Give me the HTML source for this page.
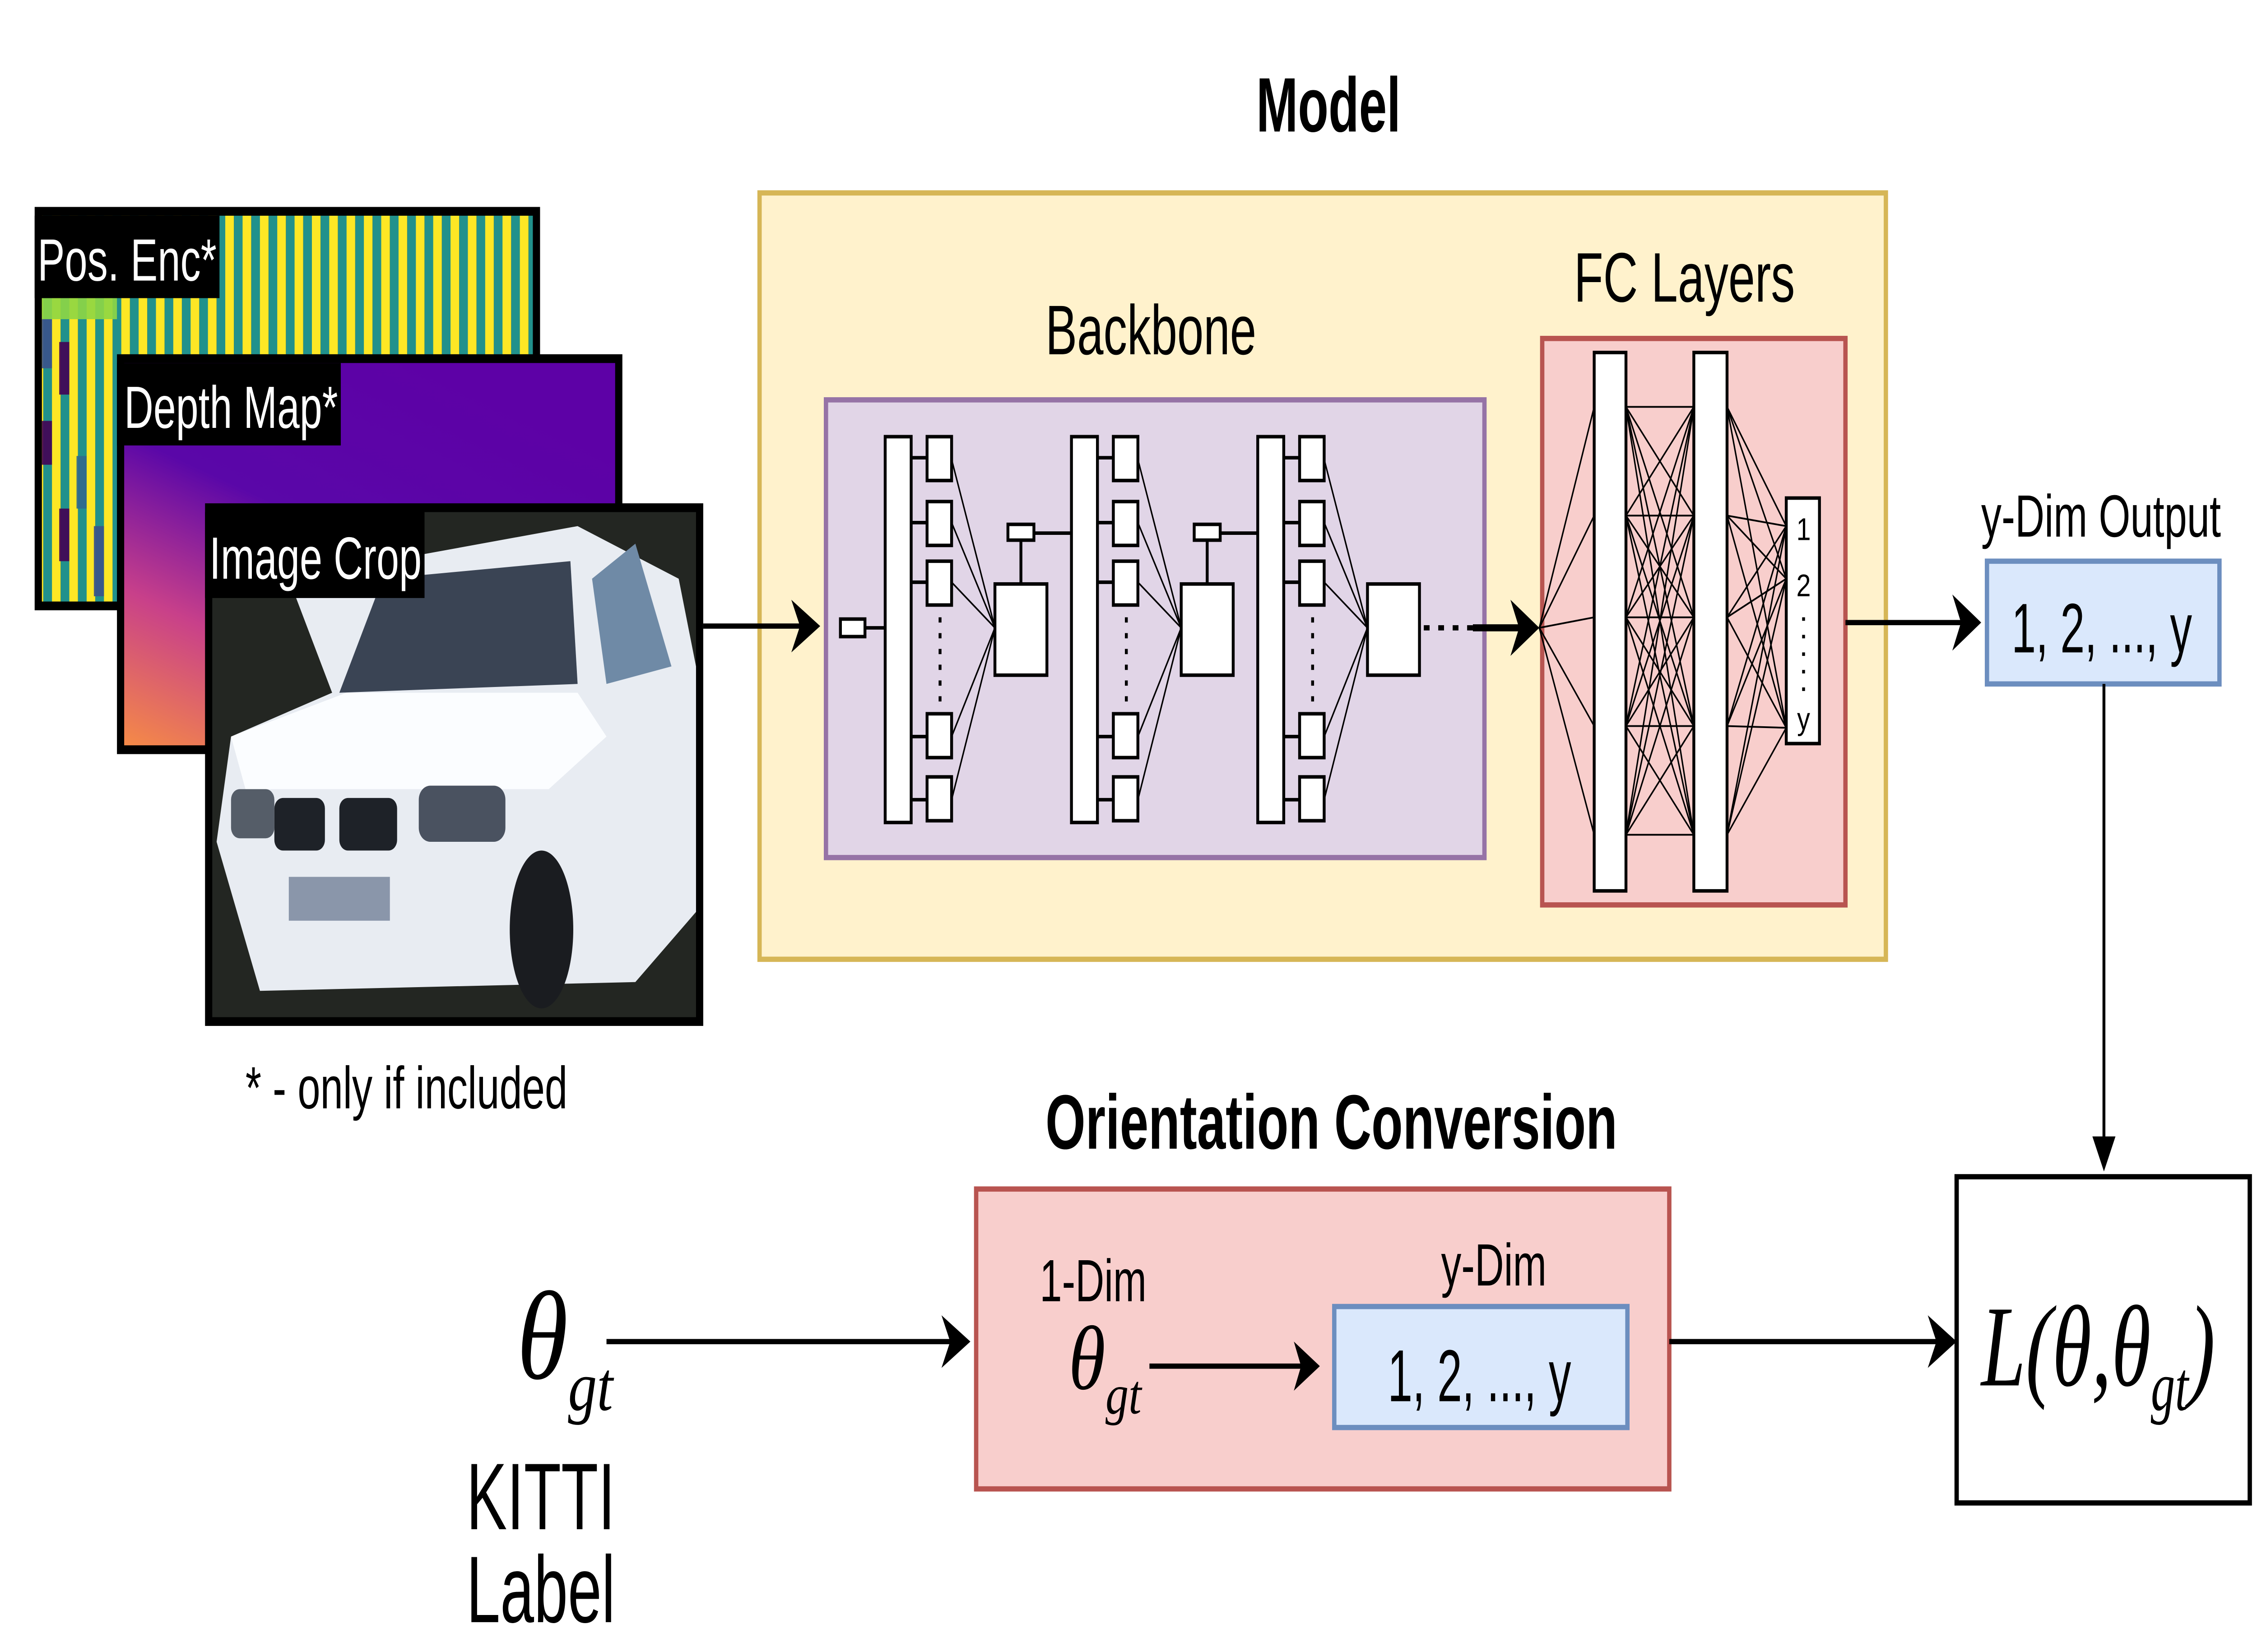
<!DOCTYPE html>
<html><head><meta charset="utf-8"><style>
html,body{margin:0;padding:0;background:#fff;overflow:hidden;width:100vw;height:100vh;}
svg{display:block;width:100vw;height:100vh;}
text{font-family:"Liberation Sans Narrow","Liberation Sans",sans-serif;}
.s{font-family:"Liberation Serif",serif;font-style:italic;}
</style></head><body>
<svg viewBox="0 0 1563 942" preserveAspectRatio="none" xmlns="http://www.w3.org/2000/svg">
<defs>
<pattern id="st" x="0" y="0" width="12" height="10" patternUnits="userSpaceOnUse">
<rect width="6" height="10" fill="#fde725"/><rect x="6" width="6" height="10" fill="#21918c"/>
</pattern>
<linearGradient id="dg" x1="0" y1="1" x2="0.6" y2="0">
<stop offset="0" stop-color="#f58a47"/><stop offset="0.3" stop-color="#c8408a"/><stop offset="0.6" stop-color="#5a07a8"/><stop offset="1" stop-color="#5d01a6"/>
</linearGradient>
</defs>

<rect x="24" y="118" width="350" height="230" fill="#000"/>
<rect x="29" y="123" width="340" height="220" fill="url(#st)"/>
<g opacity="0.9">
<rect x="29" y="180" width="7" height="30" fill="#3b528b"/><rect x="41" y="195" width="7" height="30" fill="#440154"/>
<rect x="29" y="240" width="7" height="25" fill="#440154"/><rect x="53" y="260" width="7" height="30" fill="#31688e"/>
<rect x="41" y="290" width="7" height="30" fill="#440154"/><rect x="65" y="300" width="7" height="40" fill="#3b528b"/>
<rect x="29" y="170" width="52" height="12" fill="#8fd744"/>
</g>
<rect x="24" y="123" width="128" height="47" fill="#000"/>
<text x="26" y="160" font-size="34" fill="#fff" textLength="124" lengthAdjust="spacingAndGlyphs">Pos. Enc*</text>

<rect x="81" y="202" width="350" height="228" fill="#000"/>
<rect x="86" y="207" width="340" height="218" fill="url(#dg)"/>
<rect x="81" y="207" width="155" height="47" fill="#000"/>
<text x="86" y="244" font-size="34" fill="#fff" textLength="148" lengthAdjust="spacingAndGlyphs">Depth Map*</text>

<rect x="142" y="287" width="345" height="298" fill="#000"/>
<rect x="147" y="292" width="335" height="288" fill="#232622"/>
<path d="M200,330 L400,300 L470,330 L482,380 L482,520 L440,560 L180,565 L150,480 L160,420 L230,395 Z" fill="#e8ecf2"/>
<path d="M235,395 L265,330 L395,320 L400,390 Z" fill="#3a4454"/>
<path d="M410,330 L440,310 L465,380 L420,390 Z" fill="#6f8aa6"/>
<path d="M160,420 L240,395 L400,395 L420,420 L380,450 L170,450 Z" fill="#fbfdff"/>
<rect x="190" y="455" width="35" height="30" rx="6" fill="#1e2228"/><rect x="235" y="455" width="40" height="30" rx="6" fill="#1e2228"/>
<rect x="160" y="450" width="30" height="28" rx="6" fill="#555d68"/><rect x="290" y="448" width="60" height="32" rx="8" fill="#4a5260"/>
<rect x="200" y="500" width="70" height="25" fill="#8a96aa"/>
<ellipse cx="375" cy="530" rx="22" ry="45" fill="#1a1c20"/>
<rect x="142" y="292" width="152" height="49" fill="#000"/>
<text x="145" y="330" font-size="34" fill="#fff" textLength="147" lengthAdjust="spacingAndGlyphs">Image Crop</text>

<text x="170" y="632" font-size="34" textLength="223" lengthAdjust="spacingAndGlyphs">* - only if included</text>

<text x="870" y="75" font-size="44" font-weight="bold" textLength="100" lengthAdjust="spacingAndGlyphs">Model</text>
<rect x="526" y="110" width="780" height="437" fill="#fff2cc" stroke="#d6b656" stroke-width="3"/>
<text x="724" y="202" font-size="40" textLength="146" lengthAdjust="spacingAndGlyphs">Backbone</text>
<rect x="572" y="228" width="456" height="261" fill="#e1d5e7" stroke="#9673a6" stroke-width="3"/>
<text x="1090" y="172" font-size="40" textLength="153" lengthAdjust="spacingAndGlyphs">FC Layers</text>
<rect x="1068" y="193" width="210" height="323" fill="#f8cecc" stroke="#b85450" stroke-width="3"/>

<line x1="487" y1="357" x2="560" y2="357" stroke="#000" stroke-width="3"/>
<path d="M548,342 L568,357 L548,372 L554,357 z" fill="#000"/>

<g stroke="#000" stroke-width="2" fill="#fff">
<rect x="582" y="353" width="17" height="10"/>
<line x1="599" y1="358" x2="613" y2="358"/>
</g>
<g id="blk" stroke="#000" fill="#fff">
<rect x="613" y="249" width="18" height="220" stroke-width="2"/>
<g stroke-width="2">
<line x1="631" y1="261" x2="642" y2="261"/><line x1="631" y1="298" x2="642" y2="298"/><line x1="631" y1="332" x2="642" y2="332"/><line x1="631" y1="420" x2="642" y2="420"/><line x1="631" y1="456" x2="642" y2="456"/>
<rect x="642" y="249" width="17" height="25"/><rect x="642" y="286" width="17" height="25"/><rect x="642" y="320" width="17" height="25"/><rect x="642" y="407" width="17" height="25"/><rect x="642" y="443" width="17" height="25"/>
</g>
<g stroke-width="1">
<line x1="659" y1="262" x2="689" y2="358"/><line x1="659" y1="298" x2="689" y2="358"/><line x1="659" y1="332" x2="689" y2="358"/><line x1="659" y1="420" x2="689" y2="358"/><line x1="659" y1="456" x2="689" y2="358"/>
</g>
<g stroke-width="2" stroke-dasharray="3,6"><line x1="651" y1="352" x2="651" y2="402"/></g>
<rect x="689" y="333" width="36" height="52" stroke-width="2"/>
</g>
<use href="#blk" x="129"/>
<use href="#blk" x="258"/>
<g stroke="#000" fill="#fff" stroke-width="2">
<line x1="707" y1="333" x2="707" y2="308"/><rect x="698" y="299" width="18" height="9"/><line x1="716" y1="304" x2="742" y2="304"/>
<line x1="836" y1="333" x2="836" y2="308"/><rect x="827" y="299" width="18" height="9"/><line x1="845" y1="304" x2="871" y2="304"/>
</g>
<line x1="986" y1="358" x2="1020" y2="358" stroke="#000" stroke-width="3" stroke-dasharray="4,6"/>
<line x1="1020" y1="358" x2="1055" y2="358" stroke="#000" stroke-width="4"/>
<path d="M1046,342 L1066,358 L1046,374 L1052,358 z" fill="#000"/>

<g stroke="#000" stroke-width="1" fill="none">
<line x1="1066" y1="358" x2="1104" y2="232"/><line x1="1066" y1="358" x2="1104" y2="294"/><line x1="1066" y1="358" x2="1104" y2="352"/><line x1="1066" y1="358" x2="1104" y2="414"/><line x1="1066" y1="358" x2="1104" y2="476"/>
</g>
<g stroke="#000" stroke-width="1">
<line x1="1126" y1="232" x2="1173" y2="232"/><line x1="1126" y1="232" x2="1173" y2="294"/><line x1="1126" y1="232" x2="1173" y2="352"/><line x1="1126" y1="232" x2="1173" y2="414"/><line x1="1126" y1="232" x2="1173" y2="476"/>
<line x1="1126" y1="294" x2="1173" y2="232"/><line x1="1126" y1="294" x2="1173" y2="294"/><line x1="1126" y1="294" x2="1173" y2="352"/><line x1="1126" y1="294" x2="1173" y2="414"/><line x1="1126" y1="294" x2="1173" y2="476"/>
<line x1="1126" y1="352" x2="1173" y2="232"/><line x1="1126" y1="352" x2="1173" y2="294"/><line x1="1126" y1="352" x2="1173" y2="352"/><line x1="1126" y1="352" x2="1173" y2="414"/><line x1="1126" y1="352" x2="1173" y2="476"/>
<line x1="1126" y1="414" x2="1173" y2="232"/><line x1="1126" y1="414" x2="1173" y2="294"/><line x1="1126" y1="414" x2="1173" y2="352"/><line x1="1126" y1="414" x2="1173" y2="414"/><line x1="1126" y1="414" x2="1173" y2="476"/>
<line x1="1126" y1="476" x2="1173" y2="232"/><line x1="1126" y1="476" x2="1173" y2="294"/><line x1="1126" y1="476" x2="1173" y2="352"/><line x1="1126" y1="476" x2="1173" y2="414"/><line x1="1126" y1="476" x2="1173" y2="476"/>
<line x1="1196" y1="232" x2="1237" y2="300"/><line x1="1196" y1="232" x2="1237" y2="330"/><line x1="1196" y1="232" x2="1237" y2="415"/>
<line x1="1196" y1="294" x2="1237" y2="300"/><line x1="1196" y1="294" x2="1237" y2="330"/><line x1="1196" y1="294" x2="1237" y2="415"/>
<line x1="1196" y1="352" x2="1237" y2="300"/><line x1="1196" y1="352" x2="1237" y2="330"/><line x1="1196" y1="352" x2="1237" y2="415"/>
<line x1="1196" y1="414" x2="1237" y2="300"/><line x1="1196" y1="414" x2="1237" y2="330"/><line x1="1196" y1="414" x2="1237" y2="415"/>
<line x1="1196" y1="476" x2="1237" y2="300"/><line x1="1196" y1="476" x2="1237" y2="330"/><line x1="1196" y1="476" x2="1237" y2="415"/>
</g>
<rect x="1104" y="201" width="22" height="307" fill="#fff" stroke="#000" stroke-width="2"/>
<rect x="1173" y="201" width="23" height="307" fill="#fff" stroke="#000" stroke-width="2"/>
<rect x="1237" y="284" width="23" height="140" fill="#fff" stroke="#000" stroke-width="2"/>
<text x="1249" y="308" font-size="18" text-anchor="middle">1</text>
<text x="1249" y="340" font-size="18" text-anchor="middle">2</text>
<line x1="1249" y1="352" x2="1249" y2="395" stroke="#000" stroke-width="2" stroke-dasharray="2,8"/>
<text x="1249" y="416" font-size="18" text-anchor="middle">y</text>

<line x1="1278" y1="355" x2="1360" y2="355" stroke="#000" stroke-width="3"/>
<path d="M1352,339 L1372,355 L1352,371 L1358,355 z" fill="#000"/>

<text x="1372" y="306" font-size="34" textLength="166" lengthAdjust="spacingAndGlyphs">y-Dim Output</text>
<rect x="1376" y="320" width="161" height="70" fill="#dae8fc" stroke="#6c8ebf" stroke-width="3"/>
<text x="1393" y="372" font-size="40" textLength="125" lengthAdjust="spacingAndGlyphs">1, 2, ..., y</text>
<line x1="1457" y1="390" x2="1457" y2="655" stroke="#000" stroke-width="2"/>
<path d="M1449,648 L1457,668 L1465,648 z" fill="#000"/>

<rect x="1355" y="671" width="203" height="186" fill="#fff" stroke="#000" stroke-width="3"/>
<text x="1372" y="790" font-size="66" class="s" textLength="162" lengthAdjust="spacingAndGlyphs">L(θ,θ<tspan font-size="40" dy="14">gt</tspan><tspan dy="-14">)</tspan></text>

<text x="724" y="655" font-size="44" font-weight="bold" textLength="396" lengthAdjust="spacingAndGlyphs">Orientation Conversion</text>
<rect x="676" y="678" width="480" height="171" fill="#f8cecc" stroke="#b85450" stroke-width="3"/>
<text x="720" y="742" font-size="34" textLength="74" lengthAdjust="spacingAndGlyphs">1-Dim</text>
<text x="740" y="792" font-size="52" class="s">θ<tspan font-size="32" dy="14">gt</tspan></text>
<line x1="796" y1="779" x2="905" y2="779" stroke="#000" stroke-width="3"/>
<path d="M896,765 L914,779 L896,793 L901,779 z" fill="#000"/>
<text x="998" y="733" font-size="34" textLength="73" lengthAdjust="spacingAndGlyphs">y-Dim</text>
<rect x="924" y="745" width="203" height="69" fill="#dae8fc" stroke="#6c8ebf" stroke-width="3"/>
<text x="961" y="799" font-size="42" textLength="127" lengthAdjust="spacingAndGlyphs">1, 2, ..., y</text>

<text x="358" y="786" font-size="72" class="s">θ<tspan font-size="40" dy="18">gt</tspan></text>
<line x1="420" y1="765" x2="662" y2="765" stroke="#000" stroke-width="3"/>
<path d="M652,750 L672,765 L652,780 L658,765 z" fill="#000"/>
<text x="323" y="872" font-size="54" textLength="103" lengthAdjust="spacingAndGlyphs">KITTI</text>
<text x="323" y="925" font-size="54" textLength="103" lengthAdjust="spacingAndGlyphs">Label</text>

<line x1="1156" y1="765" x2="1345" y2="765" stroke="#000" stroke-width="3"/>
<path d="M1335,750 L1355,765 L1335,780 L1341,765 z" fill="#000"/>
</svg>
</body></html>
